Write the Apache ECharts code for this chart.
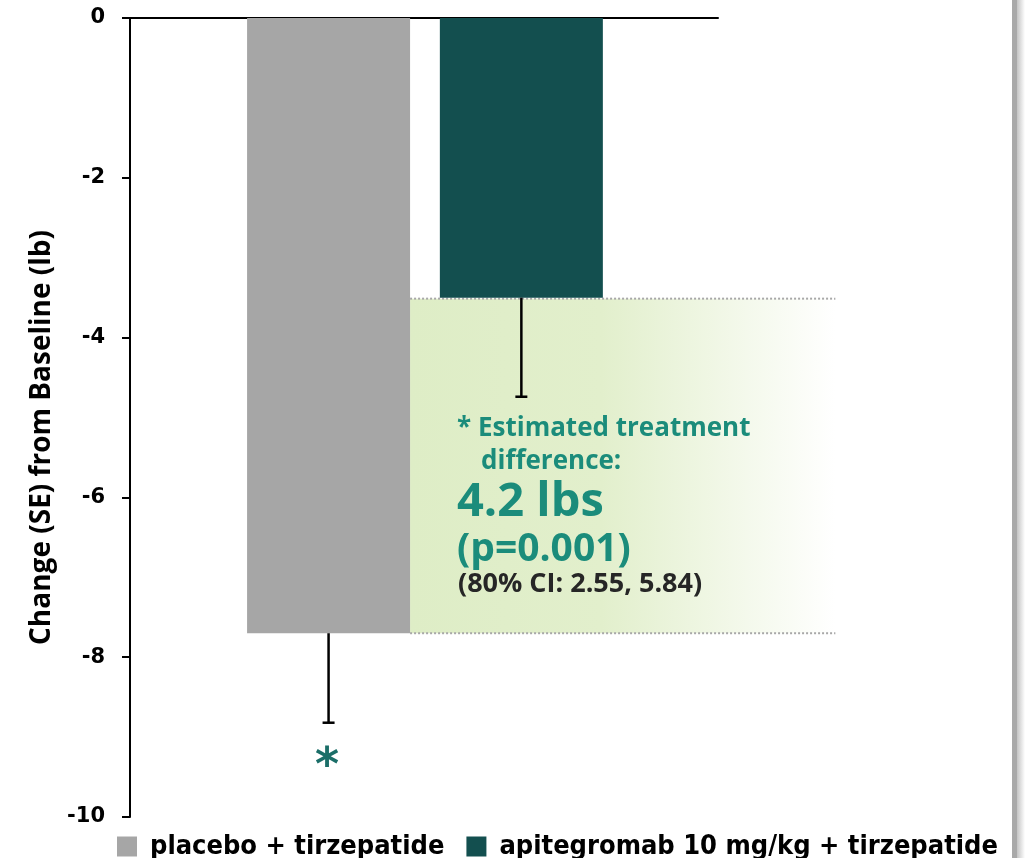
<!DOCTYPE html>
<html><head><meta charset="utf-8">
<script src="https://cdn.jsdelivr.net/npm/echarts@6/dist/echarts.min.js"></script>
<style>html,body{margin:0;padding:0;background:#fff}#c{width:1025px;height:858px}</style>
</head><body><div id="c"></div>
<script>
const categories = ['placebo + tirzepatide', 'apitegromab 10 mg/kg + tirzepatide'];
const changeValues = [-7.70, -3.50];
const seValues = [1.12, 1.24];
const yMin = -10, yMax = 0, yInterval = 2;
const barColors = ['#a6a6a6', '#134f4f'];
const annotationLines = ['* Estimated treatment', 'difference:', '4.2 lbs', '(p=0.001)', '(80% CI: 2.55, 5.84)'];

const teal = '#1b8c7b';
const chart = echarts.init(document.getElementById('c'));
const BAR_W = 163;

const option = {
  animation: false,
  backgroundColor: '#fff',
  grid: { left: 130, right: 307, top: 18, bottom: 41, containLabel: false },
  xAxis: {
    type: 'value', min: -0.03, max: 3.02,
    axisLine: { show: true, onZero: true, lineStyle: { color: '#000', width: 2 } },
    axisTick: { show: false }, axisLabel: { show: false }, splitLine: { show: false }
  },
  yAxis: {
    type: 'value', min: yMin, max: yMax, interval: yInterval,
    name: 'Change (SE) from Baseline (lb)', nameLocation: 'middle', nameRotate: 90, nameGap: 69,
    nameTextStyle: { fontFamily: 'Open Sans', fontWeight: 'bold', fontSize: 28, color: '#000', padding: [0, 40, 0, 0] },
    axisLine: { show: true, onZero: false, lineStyle: { color: '#000', width: 2 } },
    axisTick: { show: true, length: 8, lineStyle: { color: '#000', width: 2 } },
    axisLabel: { fontFamily: 'DejaVu Sans', fontWeight: 'bold', fontSize: 21, color: '#000', margin: 25 },
    splitLine: { show: false }
  },
  legend: {
    left: 112, top: 828, itemWidth: 20, itemHeight: 20, itemGap: 22,
    icon: 'rect',
    textStyle: { fontFamily: 'DejaVu Sans Condensed', fontWeight: 'bold', fontSize: 27, color: '#000', padding: [0,0,0,8] },
    data: categories
  },
  series: [
    {
      name: 'shade', type: 'custom', z: 1, silent: true, clip: false,
      data: [[changeValues[0], changeValues[1]]],
      renderItem: function (params, api) {
        const p1 = api.coord([1, changeValues[0]]);
        const p2 = api.coord([2, changeValues[1]]);
        const left = p1[0] + BAR_W / 2;
        const right = p2[0] + 314;
        const top = p2[1] + 1, bottom = p1[1];
        return { type: 'group', children: [
          { type: 'rect', shape: { x: left, y: top, width: right - left, height: bottom - top },
            style: { fill: new echarts.graphic.LinearGradient(0, 0, 1, 0, [
              { offset: 0, color: '#deedc6' }, { offset: 0.45, color: '#e2efcc' }, { offset: 1, color: '#ffffff' }]) } },
          { type: 'line', shape: { x1: left, y1: top, x2: right, y2: top },
            style: { stroke: '#a8a8a8', lineWidth: 2, lineDash: [2, 2] } },
          { type: 'line', shape: { x1: left, y1: bottom, x2: right, y2: bottom },
            style: { stroke: '#a8a8a8', lineWidth: 2, lineDash: [2, 2] } }
        ]};
      }
    },
    {
      name: categories[0], type: 'bar', barWidth: BAR_W, barGap: '-100%', z: 2,
      itemStyle: { color: barColors[0] },
      data: [[1, changeValues[0]]]
    },
    {
      name: categories[1], type: 'bar', barWidth: BAR_W, barGap: '-100%', z: 2,
      itemStyle: { color: barColors[1] },
      data: [[2, changeValues[1]]]
    },
    {
      name: 'err', type: 'custom', z: 5, silent: true,
      data: changeValues.map((v, i) => [i + 1, v, v - seValues[i]]),
      renderItem: function (params, api) {
        const a = api.coord([api.value(0), api.value(1)]);
        const b = api.coord([api.value(0), api.value(2)]);
        return { type: 'group', children: [
          { type: 'line', shape: { x1: a[0], y1: a[1], x2: b[0], y2: b[1] }, style: { stroke: '#000', lineWidth: 2.5 } },
          { type: 'line', shape: { x1: a[0] - 6, y1: b[1], x2: a[0] + 6, y2: b[1] }, style: { stroke: '#000', lineWidth: 2.5 } }
        ]};
      }
    }
  ],
  graphic: { elements: [
    { type: 'text', z: 20, x: 327, y: 768, style: { text: '*', fill: '#1b6e68', font: 'bold 46px "DejaVu Sans"', align: 'center', verticalAlign: 'middle' } },
    { type: 'text', z: 20, x: 457, y: 429, style: { text: annotationLines[0], fill: teal, font: 'bold 26px "Open Sans"', verticalAlign: 'middle' } },
    { type: 'text', z: 20, x: 481, y: 462, style: { text: annotationLines[1], fill: teal, font: 'bold 26px "Open Sans"', verticalAlign: 'middle' } },
    { type: 'text', z: 20, x: 457, y: 503, style: { text: annotationLines[2], fill: teal, font: 'bold 47px "Open Sans"', verticalAlign: 'middle' } },
    { type: 'text', z: 20, x: 457, y: 550, style: { text: annotationLines[3], fill: teal, font: 'bold 39px "Open Sans"', verticalAlign: 'middle' } },
    { type: 'text', z: 20, x: 458, y: 584, style: { text: annotationLines[4], fill: '#262626', font: 'bold 27px "Open Sans"', verticalAlign: 'middle' } },
    { type: 'rect', z: 20, shape: { x: 1012, y: 0, width: 5, height: 858 }, style: { fill: '#a9a9a9' } },
    { type: 'rect', z: 20, shape: { x: 1017, y: 0, width: 8, height: 858 },
      style: { fill: new echarts.graphic.LinearGradient(0, 0, 1, 0, [{ offset: 0, color: '#c4c4c4' }, { offset: 1, color: '#ffffff' }]) } }
  ]}
};
chart.setOption(option);
</script></body></html>
